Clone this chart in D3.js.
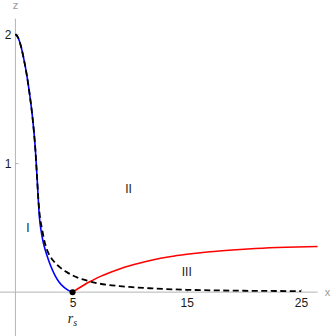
<!DOCTYPE html>
<html lang="en">
<head>
<meta charset="UTF-8">
<title>Regions I, II, III</title>
<script src="https://d3js.org/d3.v7.min.js"></script>
<style>
  body { margin: 0; background: #fff; }
  svg { display: block; }
  .tick-label { font-family: "Liberation Sans", Arial, sans-serif; font-size: 12px; fill: #1a1a1a; }
  .axis-label { font-family: "Liberation Sans", Arial, sans-serif; font-size: 11px; fill: #999; }
  .region { font-family: "Liberation Sans", Arial, sans-serif; font-size: 12px; fill: #1a1a1a; }
</style>
</head>
<body>
<svg id="chart"></svg>
<script>
  // values
  const dashedX = [0, 0.25, 0.5, 0.75, 1.0, 1.25, 1.5, 1.75, 1.9, 2.0, 2.1, 2.22, 2.35, 2.5, 2.68, 2.9, 3.1, 3.3, 3.6, 4.0, 4.5, 5.0, 5.5, 6.24, 7.0, 8.0, 9.1, 10, 12, 15, 18, 21, 25];
  const dashedZ = [2.0, 1.97, 1.9, 1.8, 1.68, 1.53, 1.35, 1.1, 0.88, 0.73, 0.62, 0.54, 0.48, 0.41, 0.35, 0.3, 0.27, 0.245, 0.215, 0.185, 0.155, 0.13, 0.11, 0.09, 0.072, 0.057, 0.047, 0.04, 0.029, 0.018, 0.013, 0.01, 0.008];

  const blueX = [0, 0.25, 0.5, 0.75, 1.0, 1.25, 1.5, 1.75, 1.9, 2.0, 2.1, 2.24, 2.4, 2.6, 2.85, 3.1, 3.46, 3.8, 4.19, 4.6, 5.0];
  const blueZ = [2.0, 1.97, 1.9, 1.8, 1.68, 1.53, 1.35, 1.1, 0.88, 0.72, 0.58, 0.48, 0.4, 0.33, 0.26, 0.2, 0.13, 0.08, 0.042, 0.016, 0];

  const redX = [5.0, 5.5, 6.0, 6.5, 7.0, 7.5, 8.0, 9.0, 10.0, 11.0, 12.0, 13.5, 15.0, 17.0, 19.0, 21.0, 23.7, 26.45];
  const redZ = [0, 0.028, 0.055, 0.08, 0.103, 0.124, 0.143, 0.176, 0.204, 0.228, 0.249, 0.274, 0.293, 0.313, 0.327, 0.338, 0.348, 0.354];

  const xTicks = [5, 15, 25];
  const zTicks = [1, 2];

  const regionNames = ["I", "II", "III"];
  const regionX = [1.1, 9.9, 15.0];
  const regionZ = [0.5, 0.8, 0.16];

  const pointX = [5];
  const pointZ = [0];

  const width = 332, height = 336;

  const svg = d3.select("#chart")
      .attr("width", width)
      .attr("height", height);

  // plot range: x from -1.35 to 26.45, z from -0.34 to 2.12
  const x = d3.scaleLinear().domain([-1.35, 26.45]).range([0, 317.6]);
  const z = d3.scaleLinear().domain([-0.34, 2.12]).range([336, 18.6]);

  const axisColor = "#b5b5b5";

  // axes
  const xAxis = svg.append("g").attr("transform", `translate(0,${z(0)})`);
  xAxis.call(d3.axisBottom(x).tickValues(xTicks).tickSize(0).tickFormat(""));
  xAxis.select(".domain").attr("stroke", axisColor).attr("d", `M0,0H${x(26.45)}`);
  xAxis.selectAll(".tick line").remove();
  xAxis.selectAll(".tick").append("line")
      .attr("y1", 0).attr("y2", -3).attr("stroke", axisColor);
  xAxis.selectAll(".tick text").remove();
  xAxis.selectAll(".tick").append("text")
      .attr("class", "tick-label")
      .attr("y", 15)
      .attr("text-anchor", "middle")
      .text(d => d);

  const zAxis = svg.append("g").attr("transform", `translate(${x(0)},0)`);
  zAxis.call(d3.axisLeft(z).tickValues(zTicks).tickSize(0).tickFormat(""));
  zAxis.select(".domain").attr("stroke", axisColor).attr("d", `M0,${z(2.12)}V${height}`);
  zAxis.selectAll(".tick line").remove();
  zAxis.selectAll(".tick").append("line")
      .attr("x1", 0).attr("x2", 3).attr("stroke", axisColor);
  zAxis.selectAll(".tick text").remove();
  zAxis.selectAll(".tick").append("text")
      .attr("class", "tick-label")
      .attr("x", -4)
      .attr("dy", "0.35em")
      .attr("text-anchor", "end")
      .text(d => d);

  svg.append("text").attr("class", "axis-label")
      .attr("x", x(0)).attr("y", 9)
      .attr("text-anchor", "middle")
      .text("z");
  svg.append("text").attr("class", "axis-label")
      .attr("x", x(26.45) + 10).attr("y", z(0))
      .attr("dy", "0.35em")
      .attr("text-anchor", "middle")
      .text("x");

  // r_s under tick 5
  const rs = svg.append("text")
      .attr("x", x(5)).attr("y", z(0) + 31)
      .attr("text-anchor", "middle")
      .style("font-family", "'Liberation Serif', 'DejaVu Serif', serif")
      .style("font-style", "italic")
      .style("font-size", "14px")
      .attr("fill", "#1a1a1a");
  rs.append("tspan").text("r");
  rs.append("tspan").attr("dy", 3).style("font-size", "10px").text("s");

  // curves
  const line = d3.line()
      .x(d => x(d[0]))
      .y(d => z(d[1]))
      .curve(d3.curveMonotoneX);

  svg.append("path")
      .datum(d3.zip(blueX, blueZ))
      .attr("fill", "none")
      .attr("stroke", "#0000ff")
      .attr("stroke-width", 1.6)
      .attr("d", line);

  svg.append("path")
      .datum(d3.zip(redX, redZ))
      .attr("fill", "none")
      .attr("stroke", "#ff0000")
      .attr("stroke-width", 1.6)
      .attr("d", line);

  svg.append("path")
      .datum(d3.zip(dashedX, dashedZ))
      .attr("fill", "none")
      .attr("stroke", "#000")
      .attr("stroke-width", 1.8)
      .attr("stroke-dasharray", "6,3.5")
      .attr("d", line);

  svg.selectAll(".pt")
      .data(d3.zip(pointX, pointZ))
      .enter().append("circle")
      .attr("class", "pt")
      .attr("cx", d => x(d[0]))
      .attr("cy", d => z(d[1]))
      .attr("r", 3)
      .attr("fill", "#000");

  // region labels
  svg.selectAll(".region")
      .data(d3.zip(regionNames, regionX, regionZ))
      .enter().append("text")
      .attr("class", "region")
      .attr("x", d => x(d[1]))
      .attr("y", d => z(d[2]))
      .attr("dy", "0.35em")
      .attr("text-anchor", "middle")
      .text(d => d[0]);
</script>
</body>
</html>
